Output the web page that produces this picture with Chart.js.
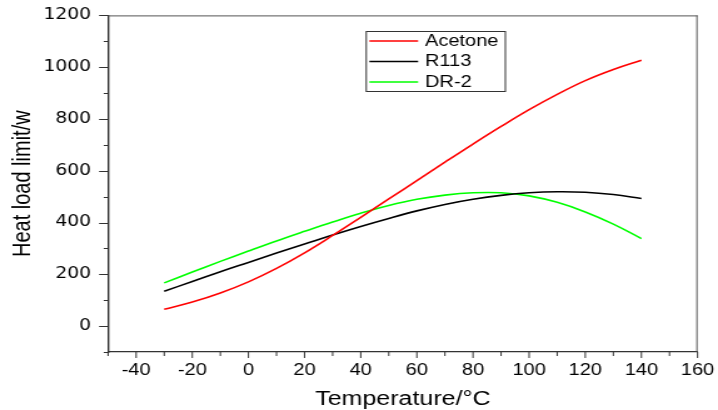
<!DOCTYPE html>
<html>
<head>
<meta charset="utf-8">
<script src="https://cdn.jsdelivr.net/npm/chart.js@4/dist/chart.umd.min.js"></script>
<style>
  html, body { margin: 0; padding: 0; background: #fff; }
</style>
</head>
<body>
<!-- the original figure is stretched sideways, so the canvas is drawn narrow and widened by css -->
<canvas id="chart" width="574" height="410" style="display:block;width:718px;height:410px"></canvas>
<script>
const temps = [-30, -20, -10, 0, 10, 20, 30, 40, 50, 60, 70, 80, 90, 100, 110, 120, 130, 140];
const acetone = [65, 93, 128, 171, 223, 283, 350, 420, 491, 562, 633, 703, 771, 836, 895, 948, 991, 1027];
const r113 = [135, 172, 210, 246, 282, 317, 352, 385, 416, 445, 470, 490, 505, 515, 519, 517, 508, 493];
const dr2 = [167, 209, 250, 290, 329, 366, 402, 436, 466, 490, 506, 515, 515, 503, 478, 441, 394, 338];
const seriesNames = ['Acetone', 'R113', 'DR-2'];
const seriesColors = ['#ff0000', '#000000', '#00ff00'];
const xTicks = [-40, -20, 0, 20, 40, 60, 80, 100, 120, 140, 160];
const yTicks = [0, 200, 400, 600, 800, 1000, 1200];

const toPoints = vals => vals.map((v, i) => ({ x: temps[i], y: v }));

// outward ticks, long on labelled values, short in between, plus the top/right frame
const frameAndTicks = {
  id: 'frameAndTicks',
  afterDraw(chart) {
    const ctx = chart.ctx;
    const area = chart.chartArea;
    const xs = chart.scales.x;
    const ys = chart.scales.y;
    ctx.save();
    ctx.strokeStyle = '#555';
    ctx.lineWidth = 1;
    ctx.beginPath();
    ctx.moveTo(area.left, area.top + 0.5);
    ctx.lineTo(area.right, area.top + 0.5);
    ctx.moveTo(area.right - 0.5, area.top);
    ctx.lineTo(area.right - 0.5, area.bottom);
    ctx.stroke();

    ctx.strokeStyle = '#333';
    ctx.beginPath();
    xs.ticks.forEach(t => {
      const px = xs.getPixelForValue(t.value);
      const len = xTicks.includes(t.value) ? 6 : 4;
      ctx.moveTo(px, area.bottom);
      ctx.lineTo(px, area.bottom + len);
    });
    ys.ticks.forEach(t => {
      const py = Math.round(ys.getPixelForValue(t.value)) + 0.5;
      const len = yTicks.includes(t.value) ? 7.2 : 3.5;
      ctx.moveTo(area.left, py);
      ctx.lineTo(area.left - len, py);
    });
    ctx.stroke();
    ctx.restore();
  }
};

// boxed legend inside the plot, top middle
const boxLegend = {
  id: 'boxLegend',
  afterDraw(chart) {
    const ctx = chart.ctx;
    const left = 292.8, top = 31, w = 111.2, h = 60;
    ctx.save();
    ctx.strokeStyle = '#333';
    ctx.lineWidth = 1;
    ctx.strokeRect(left, top + 0.5, w, h);
    ctx.font = '16px "Liberation Sans", Arial, sans-serif';
    ctx.textBaseline = 'middle';
    ctx.fillStyle = '#000';
    chart.data.datasets.forEach((ds, i) => {
      const y = top + 10 + i * 20.5;
      ctx.strokeStyle = ds.borderColor;
      ctx.lineWidth = 1.6;
      ctx.beginPath();
      ctx.moveTo(left + 2.5, y);
      ctx.lineTo(left + 41.5, y);
      ctx.stroke();
      ctx.fillText(ds.label, left + 47, y + 0.5);
    });
    ctx.restore();
  }
};

new Chart(document.getElementById('chart'), {
  type: 'line',
  data: {
    datasets: [acetone, r113, dr2].map((vals, i) => ({
      label: seriesNames[i],
      data: toPoints(vals),
      borderColor: seriesColors[i],
      backgroundColor: seriesColors[i],
      borderWidth: 1.6,
      pointRadius: 0,
      fill: false,
      tension: 0.4
    }))
  },
  options: {
    responsive: false,
    animation: false,
    devicePixelRatio: 1,
    layout: { padding: { top: 15, right: 14, left: 0, bottom: 0 } },
    plugins: {
      legend: { display: false },
      tooltip: { enabled: false }
    },
    scales: {
      x: {
        type: 'linear',
        min: -50,
        max: 160,
        afterFit: s => { s.height = 58; },
        ticks: {
          stepSize: 10,
          autoSkip: false,
          maxRotation: 0,
          padding: 3,
          color: '#000',
          font: { family: '"Liberation Sans", Arial, sans-serif', size: 16 },
          callback: v => (xTicks.includes(v) ? String(v) : '')
        },
        grid: { display: true, drawOnChartArea: false, drawTicks: true, tickLength: 6, tickColor: 'rgba(0,0,0,0)' },
        border: { display: true, color: '#333', width: 1.2 },
        title: {
          display: true,
          text: 'Temperature/°C',
          color: '#000',
          font: { family: '"Liberation Sans", Arial, sans-serif', size: 20, lineHeight: 1 },
          padding: { top: 0, bottom: 1 }
        }
      },
      y: {
        min: -100,
        max: 1200,
        afterFit: s => { s.width = 86.4; },
        ticks: {
          stepSize: 100,
          autoSkip: false,
          padding: 6.4,
          color: '#000',
          font: { family: '"DejaVu Sans", sans-serif', size: 15 },
          callback: v => (yTicks.includes(v) ? String(v) : '')
        },
        grid: { display: true, drawOnChartArea: false, drawTicks: true, tickLength: 7.2, tickColor: 'rgba(0,0,0,0)' },
        border: { display: true, color: '#333', width: 1.4 },
        title: {
          display: true,
          text: 'Heat load limit/w',
          color: '#000',
          font: { family: '"Liberation Sans", Arial, sans-serif', size: 20, lineHeight: 1 },
          padding: { top: 8, bottom: 0 }
        }
      }
    }
  },
  plugins: [frameAndTicks, boxLegend]
});
</script>
</body>
</html>
